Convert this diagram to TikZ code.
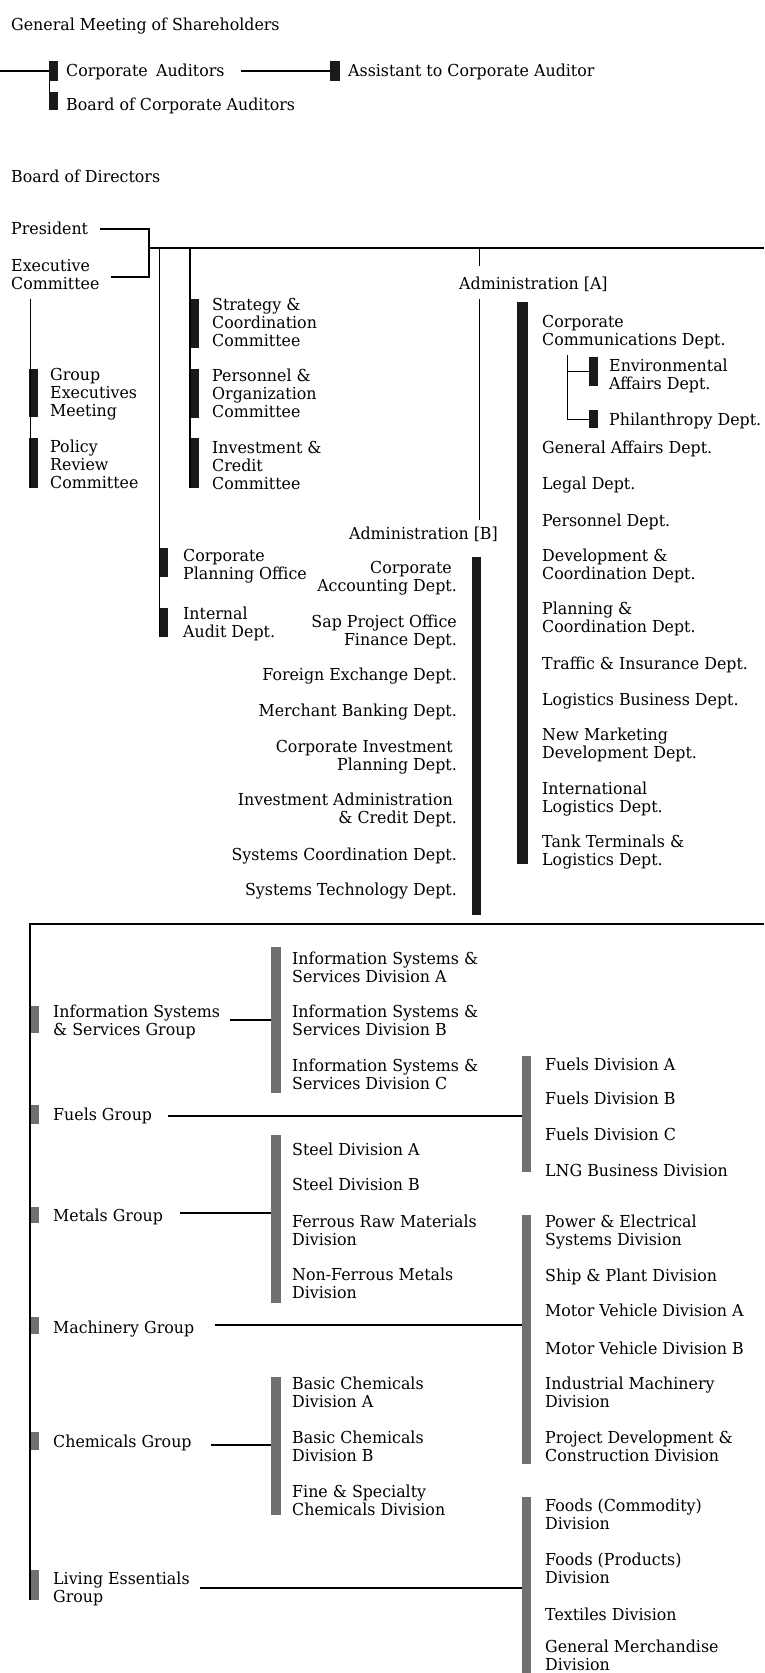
\documentclass[tikz,border=0pt]{standalone}
\usepackage{fontspec}
\setmainfont{DejaVu Serif}[FakeStretch=0.96]
\definecolor{barblack}{HTML}{1A1A1A}
\definecolor{bargray}{HTML}{707070}
\begin{document}
\begin{tikzpicture}[x=1pt,y=-1pt,
  txt/.style={inner sep=0pt, anchor=base west, align=left, font=\fontsize{16.5}{17.8}\selectfont},
  rtxt/.style={txt, anchor=base east, align=right},
  bbar/.style={rectangle, fill=barblack, draw=none, inner sep=0pt, minimum width=9.5pt},
  gbar/.style={rectangle, fill=bargray, draw=none, inner sep=0pt, minimum width=9pt},
  conn/.style={draw=black, line width=1.5pt},
  thinln/.style={draw=black, line width=1pt},
]
\useasboundingbox (0,0) rectangle (764,1673);

% ---------- top texts (anchor = baseline of last line) ----------
\node[txt] (gm)   at (11,30)  {General Meeting of Shareholders};
\node[txt] (ca)   at (66,76)  {Corporate\enspace Auditors};
\node[txt] (aca)  at (348,76) {Assistant to Corporate Auditor};
\node[txt] (bca)  at (66,110) {Board of Corporate Auditors};
\node[txt] (bod)  at (11,182) {Board of Directors};
\node[txt] (pres) at (11,234) {President};
\node[txt] (exec) at (11,289) {Executive\\Committee};
\node[txt] (gem)  at (50,416) {Group\\Executives\\Meeting};
\node[txt] (prc)  at (50,488) {Policy\\Review\\Committee};
\node[txt] (scc)  at (212,346) {Strategy \&\\Coordination\\Committee};
\node[txt] (poc)  at (212,417) {Personnel \&\\Organization\\Committee};
\node[txt] (icc)  at (212,489) {Investment \&\\Credit\\Committee};
\node[txt] (cpo)  at (183,579) {Corporate\\Planning Office};
\node[txt] (iad)  at (183,637) {Internal\\Audit Dept.};
\node[txt] (adma) at (459,289) {Administration [A]};
\node[rtxt] (admb) at (498,539) {Administration [B]};

% Administration [A] column
\node[txt] (ccd)  at (542,345) {Corporate\\Communications Dept.};
\node[txt] (ead)  at (609,389) {Environmental\\Affairs Dept.};
\node[txt] (phd)  at (609,425) {Philanthropy Dept.};
\node[txt] (gad)  at (542,453) {General Affairs Dept.};
\node[txt] (lgd)  at (542,489) {Legal Dept.};
\node[txt] (prd)  at (542,526) {Personnel Dept.};
\node[txt] (dcd)  at (542,579) {Development \&\\Coordination Dept.};
\node[txt] (pcd)  at (542,632) {Planning \&\\Coordination Dept.};
\node[txt] (tid)  at (542,669) {Traffic \& Insurance Dept.};
\node[txt] (lbd)  at (542,705) {Logistics Business Dept.};
\node[txt] (nmd)  at (542,758) {New Marketing\\Development Dept.};
\node[txt] (ild)  at (542,812) {International\\Logistics Dept.};
\node[txt] (ttl)  at (542,865) {Tank Terminals \&\\Logistics Dept.};

% Administration [B] column
\node[rtxt] (cad) at (457,591) {Corporate\hspace*{5pt}\\Accounting Dept.};
\node[rtxt] (spo) at (457,645) {Sap Project Office\\Finance Dept.};
\node[rtxt] (fed) at (457,680) {Foreign Exchange Dept.};
\node[rtxt] (mbd) at (457,716) {Merchant Banking Dept.};
\node[rtxt] (cip) at (457,770) {Corporate Investment\hspace*{4pt}\\Planning Dept.};
\node[rtxt] (iac) at (457,823) {Investment Administration\hspace*{4pt}\\\& Credit Dept.};
\node[rtxt] (scd) at (457,860) {Systems Coordination Dept.};
\node[rtxt] (std) at (457,895) {Systems Technology Dept.};

% ---------- top bars ----------
\node[bbar, minimum height=20pt] (b-ca)  at (53.5,71) {};
\node[bbar, minimum height=18pt] (b-bca) at (53.5,101) {};
\node[bbar, minimum height=20pt] (b-aca) at (335,71) {};
\node[bbar, minimum height=48pt] (b-gem) at (33.5,393) {};
\node[bbar, minimum height=50pt] (b-prc) at (33.5,463) {};
\node[bbar, minimum height=49pt] (b-scc) at (194,323.5) {};
\node[bbar, minimum height=49pt] (b-poc) at (194,393.5) {};
\node[bbar, minimum height=50pt] (b-icc) at (194,463) {};
\node[bbar, minimum height=29pt] (b-cpo) at (163.5,562.5) {};
\node[bbar, minimum height=29pt] (b-iad) at (163.5,622.5) {};
\node[bbar, minimum height=562pt, minimum width=11pt] (b-adma) at (522.5,583) {};
\node[bbar, minimum height=29pt] (b-ead) at (593.5,371.5) {};
\node[bbar, minimum height=18pt] (b-phd) at (593.5,419) {};
\node[bbar, minimum height=358pt, minimum width=9pt] (b-admb) at (476.5,736) {};

% ---------- top connectors ----------
\coordinate (l0) at (0,71);
\draw[conn] (l0) -- (b-ca.west);
\draw[thinln] ([xshift=1pt]b-ca.south west) -- ([xshift=1pt]b-bca.north west);
\coordinate (a1) at (241,71);
\draw[conn] (a1) -- (b-aca.west);
\coordinate (p1) at (100,229);
\coordinate (p3) at (149,277);
\coordinate (p4) at (111,277);
\draw[conn] (p1) -| (p3) -- (p4);
\coordinate (m1) at (149,248);
\coordinate (m2) at (764,248);
\draw[conn] (m1) -- (m2);
\draw[conn] ([xshift=0.7pt]b-cpo.north west |- m1) -- ([xshift=0.7pt]b-iad.south west);
\draw[conn] ([xshift=0.7pt]b-scc.north west |- m1) -- ([xshift=0.7pt]b-icc.south west);
\coordinate (lc) at (30,299);
\draw[thinln] (lc) -- (lc |- b-prc.south);
\coordinate (v1) at (479,248);
\coordinate (v2) at (479,266);
\coordinate (v3) at (479,299);
\coordinate (v4) at (479,520);
\draw[thinln] (v1) -- (v2);
\draw[thinln] (v3) -- (v4);
\coordinate (s1) at (567,355);
\draw[thinln] (s1) |- (b-phd.west);
\draw[thinln] (s1 |- b-ead.west) -- (b-ead.west);

% ---------- bottom texts ----------
\node[txt] (isg)  at (53,1035) {Information Systems\\\& Services Group};
\node[txt] (isa)  at (292,982) {Information Systems \&\\Services Division A};
\node[txt] (isb)  at (292,1035) {Information Systems \&\\Services Division B};
\node[txt] (isc)  at (292,1089) {Information Systems \&\\Services Division C};
\node[txt] (fg)   at (53,1120) {Fuels Group};
\node[txt] (fda)  at (545,1070) {Fuels Division A};
\node[txt] (fdb)  at (545,1104) {Fuels Division B};
\node[txt] (fdc)  at (545,1140) {Fuels Division C};
\node[txt] (lng)  at (545,1176) {LNG Business Division};
\node[txt] (sda)  at (292,1155) {Steel Division A};
\node[txt] (sdb)  at (292,1190) {Steel Division B};
\node[txt] (frm)  at (292,1245) {Ferrous Raw Materials\\Division};
\node[txt] (nfm)  at (292,1298) {Non-Ferrous Metals\\Division};
\node[txt] (mg)   at (53,1221) {Metals Group};
\node[txt] (mach) at (53,1333) {Machinery Group};
\node[txt] (pes)  at (545,1245) {Power \& Electrical\\Systems Division};
\node[txt] (spd)  at (545,1281) {Ship \& Plant Division};
\node[txt] (mva)  at (545,1316) {Motor Vehicle Division A};
\node[txt] (mvb)  at (545,1354) {Motor Vehicle Division B};
\node[txt] (imd)  at (545,1407) {Industrial Machinery\\Division};
\node[txt] (pdc)  at (545,1461) {Project Development \&\\Construction Division};
\node[txt] (chem) at (53,1447) {Chemicals Group};
\node[txt] (bcda) at (292,1407) {Basic Chemicals\\Division A};
\node[txt] (bcdb) at (292,1461) {Basic Chemicals\\Division B};
\node[txt] (fsc)  at (292,1515) {Fine \& Specialty\\Chemicals Division};
\node[txt] (leg)  at (53,1602) {Living Essentials\\Group};
\node[txt] (fco)  at (545,1529) {Foods (Commodity)\\Division};
\node[txt] (fpr)  at (545,1583) {Foods (Products)\\Division};
\node[txt] (tex)  at (545,1620) {Textiles Division};
\node[txt] (gmd)  at (545,1670) {General Merchandise\\Division};

% ---------- bottom bars ----------
\node[gbar, minimum height=27pt, minimum width=8pt] (g-isg)  at (35,1019.5) {};
\node[gbar, minimum height=19pt, minimum width=8pt] (g-fg)   at (35,1114.5) {};
\node[gbar, minimum height=16pt, minimum width=8pt] (g-mg)   at (35,1215) {};
\node[gbar, minimum height=17pt, minimum width=8pt] (g-mach) at (35,1325.5) {};
\node[gbar, minimum height=18pt, minimum width=8pt] (g-chem) at (35,1441) {};
\node[gbar, minimum height=30pt, minimum width=8pt] (g-leg)  at (35,1585) {};
\node[gbar, minimum height=146pt, minimum width=10pt] (g-is) at (276,1020) {};
\node[gbar, minimum height=116pt] (g-fu) at (526.5,1114) {};
\node[gbar, minimum height=168pt, minimum width=10pt] (g-st) at (276,1219) {};
\node[gbar, minimum height=249pt] (g-ma) at (526.5,1339.5) {};
\node[gbar, minimum height=138pt, minimum width=10pt] (g-ch) at (276,1446) {};
\node[gbar, minimum height=176pt] (g-le) at (526.5,1585) {};

% ---------- bottom connectors ----------
\coordinate (h1) at (30,924);
\coordinate (h2) at (764,924);
\coordinate (h3) at (30,1600);
\draw[conn] (h2) -- (h1) -- (h3);
\coordinate (c1) at (230,1020);
\draw[conn] (c1) -- (c1 -| g-is.west);
\coordinate (c2) at (168,1116);
\draw[conn] (c2) -- (c2 -| g-fu.west);
\coordinate (c3) at (180,1213);
\draw[conn] (c3) -- (c3 -| g-st.west);
\coordinate (c4) at (215,1325);
\draw[conn] (c4) -- (c4 -| g-ma.west);
\coordinate (c5) at (211,1445);
\draw[conn] (c5) -- (c5 -| g-ch.west);
\coordinate (c6) at (200,1588);
\draw[conn] (c6) -- (c6 -| g-le.west);
\end{tikzpicture}
\end{document}
